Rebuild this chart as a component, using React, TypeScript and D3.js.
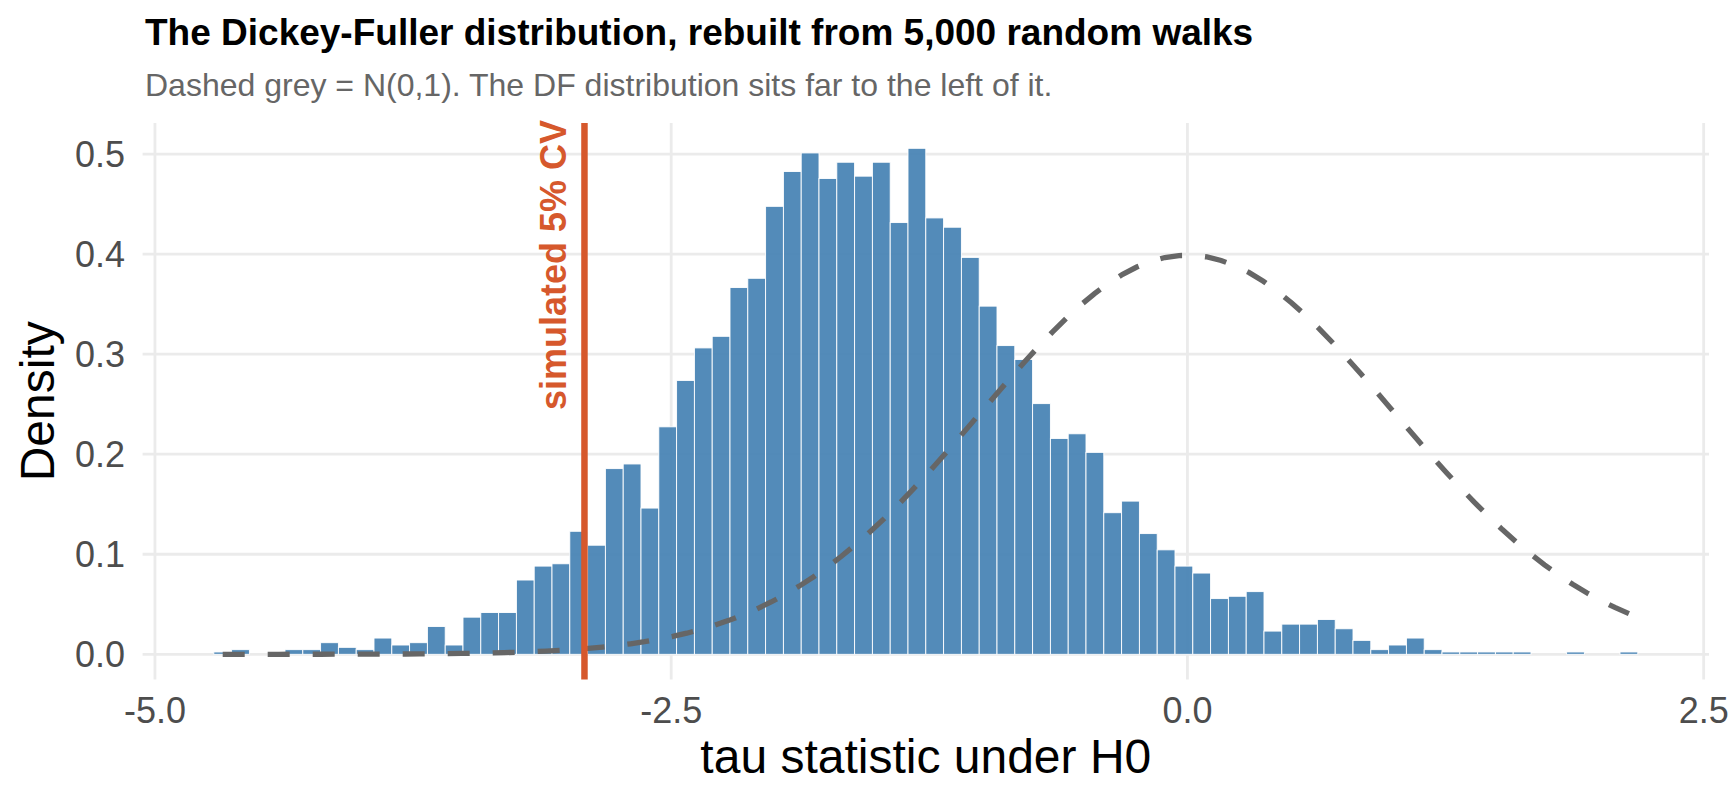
import * as d3 from "d3"

// simulated tau statistics: observed min / max and the histogram counts (80 bins)
const tauMin = -4.672
const tauMax = 2.138
const nWalks = 5000
const binCounts = [
  1, 2, 0, 0, 2, 2, 5, 3, 2, 7, 4, 5, 12, 4, 16, 18, 18, 32, 38, 39,
  53, 47, 80, 82, 63, 98, 118, 132, 137, 158, 162, 193, 208, 216, 205, 212, 206, 212, 186, 218,
  188, 184, 171, 150, 133, 127, 108, 93, 95, 87, 61, 66, 52, 45, 38, 35, 24, 25, 27, 10,
  13, 13, 15, 11, 6, 2, 4, 7, 2, 1, 1, 1, 1, 1, 0, 0, 1, 0, 0, 1,
]
const cvSim = -2.92

const xTicks = [-5, -2.5, 0, 2.5]
const yTicks = [0, 0.1, 0.2, 0.3, 0.4, 0.5]

const W = 1728
const H = 806
const panel = { left: 142.6, right: 1709, top: 123, bottom: 679.6 }
const font = "'Liberation Sans', Arial, Helvetica, sans-serif"
const accent = "#D6582C"

const dnorm = (v: number) => Math.exp(-0.5 * v * v) / Math.sqrt(2 * Math.PI)

export default function App() {
  const binWidth = (tauMax - tauMin) / (binCounts.length - 1)
  const bins = binCounts.map((c, i) => {
    const x0 = tauMin - binWidth / 2 + i * binWidth
    return { x0, x1: x0 + binWidth, density: c / (nWalks * binWidth) }
  })

  const xLo = bins[0].x0
  const xHi = bins[bins.length - 1].x1
  const xPad = (xHi - xLo) * 0.05
  const x = d3.scaleLinear().domain([xLo - xPad, xHi + xPad]).range([panel.left, panel.right])

  const yMax = d3.max(bins, (d) => d.density) as number
  const y = d3
    .scaleLinear()
    .domain([-yMax * 0.05, yMax * 1.05])
    .range([panel.bottom, panel.top])

  // N(0,1) reference, evaluated over the range of the simulated taus
  const curveXs = d3.range(101).map((i) => tauMin + ((tauMax - tauMin) * i) / 100)
  const line = d3
    .line<number>()
    .x((d) => x(d))
    .y((d) => y(dnorm(d)))

  const labelY = (panel.top + panel.bottom) / 2

  return (
    <svg
      width={W}
      height={H}
      style={{ position: "absolute", left: 0, top: 0, background: "#fff" }}
      fontFamily={font}
    >
      <rect width={W} height={H} fill="#fff" />

      {/* grid */}
      {yTicks.map((t) => (
        <line key={"gy" + t} x1={panel.left} x2={panel.right} y1={y(t)} y2={y(t)} stroke="#EBEBEB" strokeWidth={2.8} />
      ))}
      {xTicks.map((t) => (
        <line key={"gx" + t} x1={x(t)} x2={x(t)} y1={panel.top} y2={panel.bottom} stroke="#EBEBEB" strokeWidth={2.8} />
      ))}

      {/* histogram */}
      <g>
        {bins
          .filter((b) => b.density > 0)
          .map((b, i) => (
            <rect
              key={i}
              x={x(b.x0)}
              y={y(b.density)}
              width={x(b.x1) - x(b.x0)}
              height={y(0) - y(b.density)}
              fill="#4682B4"
              fillOpacity={0.93}
              stroke="#fff"
              strokeWidth={0.9}
            />
          ))}
      </g>

      {/* normal reference */}
      <path d={line(curveXs) ?? ""} fill="none" stroke="#666666" strokeWidth={5.3} strokeDasharray="22 23" />

      {/* simulated critical value */}
      <line x1={x(cvSim)} x2={x(cvSim)} y1={panel.top} y2={panel.bottom} stroke={accent} strokeWidth={6.5} />
      <text
        transform={`translate(${x(cvSim) - 18},410) rotate(-90)`}
        textAnchor="start"
        fontSize={36}
        fontWeight="bold"
        fill={accent}
      >
        simulated 5% CV
      </text>

      {/* axes */}
      {yTicks.map((t) => (
        <text key={"ly" + t} x={125} y={y(t) + 12.8} textAnchor="end" fontSize={36} fill="#4D4D4D">
          {t.toFixed(1)}
        </text>
      ))}
      {xTicks.map((t) => (
        <text key={"lx" + t} x={x(t)} y={723} textAnchor="middle" fontSize={36} fill="#4D4D4D">
          {t.toFixed(1)}
        </text>
      ))}
      <text x={(panel.left + panel.right) / 2} y={773} textAnchor="middle" fontSize={48} fill="#000">
        tau statistic under H0
      </text>
      <text transform={`translate(54,${labelY}) rotate(-90)`} textAnchor="middle" fontSize={48} fill="#000">
        Density
      </text>

      {/* titles */}
      <text x={145} y={45} fontSize={37} fontWeight="bold" fill="#000">
        The Dickey-Fuller distribution, rebuilt from 5,000 random walks
      </text>
      <text x={145} y={96} fontSize={32} fill="#666666">
        Dashed grey = N(0,1). The DF distribution sits far to the left of it.
      </text>
    </svg>
  )
}
